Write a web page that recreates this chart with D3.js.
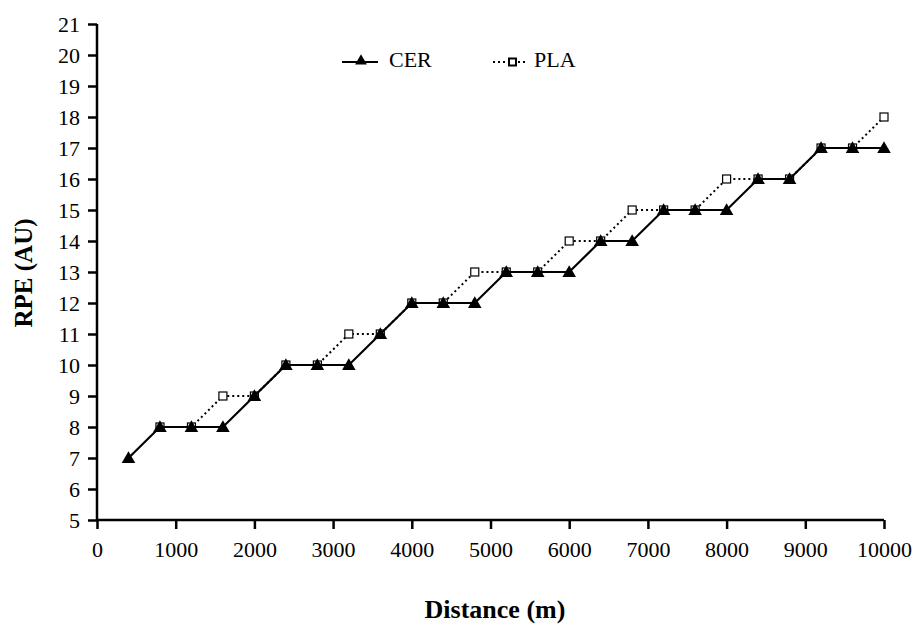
<!DOCTYPE html>
<html><head><meta charset="utf-8">
<script src="https://cdn.jsdelivr.net/npm/d3@7"></script>
<style>body{margin:0;background:#fff}svg{display:block}</style>
</head><body>
<svg id="c" width="915" height="624"></svg>
<script>
const cerDistances = [400,800,1200,1600,2000,2400,2800,3200,3600,4000,4400,4800,5200,5600,6000,6400,6800,7200,7600,8000,8400,8800,9200,9600,10000];
const cerValues = [7,8,8,8,9,10,10,10,11,12,12,12,13,13,13,14,14,15,15,15,16,16,17,17,17];
const plaDistances = [800,1200,1600,2000,2400,2800,3200,3600,4000,4400,4800,5200,5600,6000,6400,6800,7200,7600,8000,8400,8800,9200,9600,10000];
const plaValues = [8,8,9,9,10,10,11,11,12,12,13,13,13,14,14,15,15,15,16,16,16,17,17,18];
const xTicks = [0,1000,2000,3000,4000,5000,6000,7000,8000,9000,10000];
const yTicks = [5,6,7,8,9,10,11,12,13,14,15,16,17,18,19,20,21];
const seriesNames = ["CER","PLA"];

const svg = d3.select("#c");
const font = "'Liberation Serif','Times New Roman',serif";
const x = d3.scaleLinear().domain([0,10000]).range([97,884]);
const y = d3.scaleLinear().domain([5,21]).range([520,24]);

// axes
const xAxis = svg.append("g").attr("transform","translate(0,520)")
  .call(d3.axisBottom(x).tickValues(xTicks).tickSize(9).tickPadding(12).tickFormat(d3.format("d")));
const yAxis = svg.append("g").attr("transform","translate(97,0)")
  .call(d3.axisLeft(y).tickValues(yTicks).tickSize(9).tickPadding(8).tickFormat(d3.format("d")));
[xAxis,yAxis].forEach(g=>{
  g.select(".domain").attr("stroke","#000").attr("stroke-width",2.5);
  g.selectAll(".tick line").attr("stroke","#000").attr("stroke-width",2.5);
  g.selectAll(".tick text").attr("fill","#000").style("font-family",font).style("font-size","22px");
});
xAxis.select(".domain").attr("d","M97,0H884");
yAxis.select(".domain").attr("d","M0,520V24");

// titles
svg.append("text").attr("x",495).attr("y",618).attr("text-anchor","middle")
  .style("font-family",font).style("font-weight","bold").style("font-size","26px").text("Distance (m)");
svg.append("text").attr("transform","translate(32,273) rotate(-90)").attr("text-anchor","middle")
  .style("font-family",font).style("font-weight","bold").style("font-size","25px").text("RPE (AU)");

const line = d3.line().x(d=>x(d[0])).y(d=>y(d[1]));
const cer = cerDistances.map((d,i)=>[d,cerValues[i]]);
const pla = plaDistances.map((d,i)=>[d,plaValues[i]]);

const tri = d3.symbol().type(d3.symbolTriangle).size(80);

// PLA line (dotted) and markers
svg.append("path").datum(pla).attr("d",line).attr("fill","none").attr("stroke","#000")
  .attr("stroke-width",2).attr("stroke-dasharray","2,3");
svg.append("g").selectAll("rect").data(pla).join("rect")
  .attr("x",d=>x(d[0])-4).attr("y",d=>y(d[1])-4).attr("width",8).attr("height",8)
  .attr("fill","#fff").attr("stroke","#000").attr("stroke-width",1.2);

// CER line and markers
svg.append("path").datum(cer).attr("d",line).attr("fill","none").attr("stroke","#000").attr("stroke-width",2.2);
svg.append("g").selectAll("path").data(cer).join("path")
  .attr("d",tri).attr("transform",d=>`translate(${x(d[0])},${y(d[1])+1})`).attr("fill","#000");

// legend
const lg = svg.append("g");
lg.append("line").attr("x1",342).attr("x2",378).attr("y1",62).attr("y2",62).attr("stroke","#000").attr("stroke-width",2.2);
lg.append("path").attr("d",d3.symbol().type(d3.symbolTriangle).size(60)).attr("transform","translate(361,61)").attr("fill","#000");
lg.append("text").attr("x",389).attr("y",67).style("font-family",font).style("font-size","22px").text(seriesNames[0]);
lg.append("line").attr("x1",493).attr("x2",528).attr("y1",62).attr("y2",62).attr("stroke","#000")
  .attr("stroke-width",2).attr("stroke-dasharray","2,3");
lg.append("rect").attr("x",509).attr("y",58.5).attr("width",7).attr("height",7).attr("fill","#fff").attr("stroke","#000").attr("stroke-width",2);
lg.append("text").attr("x",534).attr("y",67).style("font-family",font).style("font-size","22px").text(seriesNames[1]);
</script>
</body></html>
